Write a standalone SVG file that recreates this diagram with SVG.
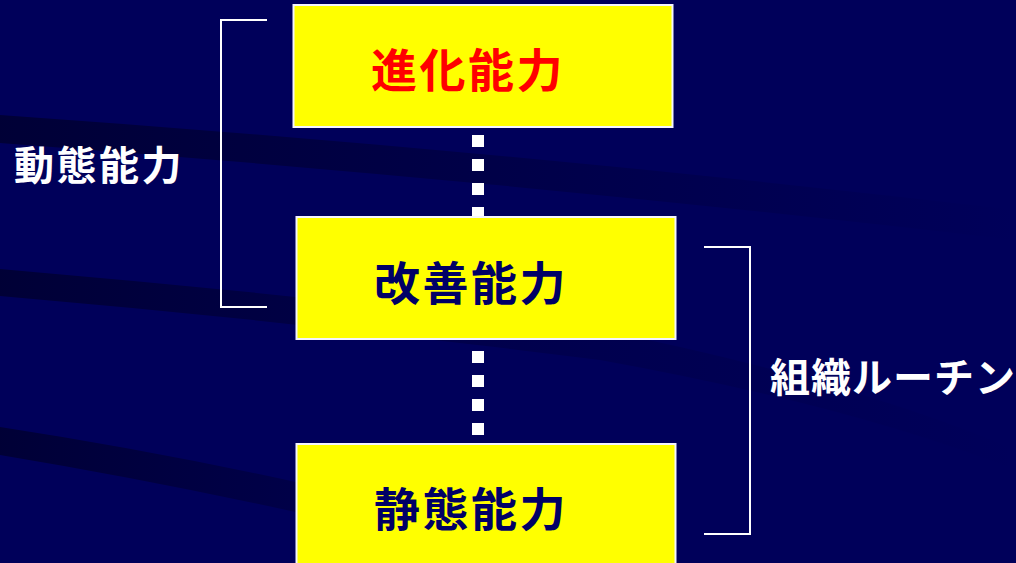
<svg xmlns="http://www.w3.org/2000/svg" width="1016" height="563" viewBox="0 0 1016 563">
<defs>
<linearGradient id="fadeA" x1="0" y1="0" x2="1" y2="0">
<stop offset="0" stop-color="#000030" stop-opacity="0.85"/>
<stop offset="0.4" stop-color="#000030" stop-opacity="0.5"/>
<stop offset="1" stop-color="#000030" stop-opacity="0"/>
</linearGradient>
<linearGradient id="fadeB" x1="0" y1="0" x2="1" y2="0">
<stop offset="0" stop-color="#000030" stop-opacity="0.85"/>
<stop offset="0.45" stop-color="#000030" stop-opacity="0.35"/>
<stop offset="1" stop-color="#000030" stop-opacity="0"/>
</linearGradient>
<style>
.box{fill:#FFFF00;stroke:#F4F4FF;stroke-width:2}
.bt{font-family:"Noto Sans CJK JP","Noto Sans CJK SC",sans-serif;font-weight:bold;font-size:46px;fill:#000066;letter-spacing:2.5px}
.lt{font-family:"Noto Sans CJK JP","Noto Sans CJK SC",sans-serif;font-weight:bold;font-size:40px;fill:#FFFFFF;letter-spacing:2.5px}
.br{fill:none;stroke:#FFFFFF;stroke-width:2}
</style>
</defs>
<rect width="1016" height="563" fill="#00005A"/>
<g id="background">
<path d="M0,115 Q500,150 1016,210 L1016,240 Q500,180 0,143 Z" fill="url(#fadeA)"/>
<path d="M0,269 Q300,295 600,330 Q850,380 1016,450 L1016,470 Q850,405 600,360 Q300,322 0,296 Z" fill="url(#fadeB)"/>
<path d="M0,427 Q150,450 300,483 L600,560 L600,563 L300,513 Q150,480 0,455 Z" fill="url(#fadeA)"/>
</g>
<g id="connectors">
<line x1="478" y1="135" x2="478" y2="436" stroke="#FFFFFF" stroke-width="12" stroke-dasharray="12 12"/>
<path class="br" d="M267,20 H221 V307 H267"/>
<path class="br" d="M704,247 H750 V534 H704"/>
</g>
<g id="node-shinka">
<rect class="box" x="293.5" y="5" width="379" height="122"/>
<text class="bt" x="371" y="87" style="fill:#FF0000">進化能力</text>
</g>
<g id="node-kaizen">
<rect class="box" x="296.5" y="217" width="379" height="122"/>
<text class="bt" x="374" y="300">改善能力</text>
</g>
<g id="node-seitai">
<rect class="box" x="296.5" y="444" width="379" height="130"/>
<text class="bt" x="374" y="526">静態能力</text>
</g>
<g id="label-dotai">
<text class="lt" x="14" y="180">動態能力</text>
</g>
<g id="label-routine">
<text class="lt" x="770" y="392" style="letter-spacing:1px">組織ルーチン</text>
</g>
</svg>
